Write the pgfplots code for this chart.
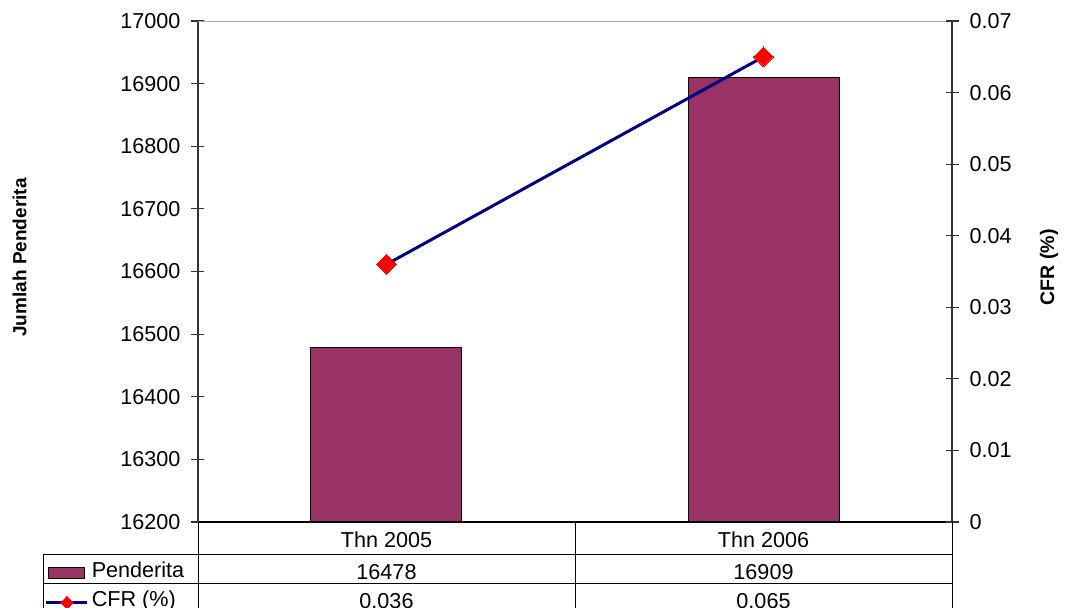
\documentclass[border=0pt]{standalone}
\usepackage{fontspec}
\setmainfont{Liberation Sans}
\usepackage{pgfplots}
\pgfplotsset{compat=1.18}
\definecolor{barplum}{HTML}{993366}
\definecolor{cfrnavy}{HTML}{000080}

\pgfplotsset{
  barkey/.style={legend image code/.code={\draw[##1] (1.2pt,-2.75pt) rectangle (19.2pt,2.75pt);}},
  linekey/.style={legend image code/.code={\draw[##1, mark repeat=2, mark phase=2] plot coordinates {(0pt,0pt) (10.25pt,0pt) (20.5pt,0pt)};}},
  common/.style={
    at={(0,0)}, anchor=south west, scale only axis,
    width=377pt, height=250.5pt,
    xmin=-0.5, xmax=1.5,
    tick align=center, major tick length=6.5pt,
    scaled y ticks=false,
    /pgf/number format/assume math mode=true,
    /pgf/number format/1000 sep={},
    every tick/.style={black!80, line width=0.6pt},
  }
}

\begin{document}
\begin{tikzpicture}[x=1pt,y=1pt,font=\fontsize{10.8}{12}\selectfont]
\useasboundingbox (-99,-43) rectangle (434,261);
\begin{axis}[common,
  ymin=16200, ymax=17000,
  ytick={16200,16300,16400,16500,16600,16700,16800,16900,17000},
  axis x line*=bottom, axis y line*=left,
  x axis line style={black, line width=1.1pt, -},
  y axis line style={black!80, line width=0.8pt, -},
  xtick={0,1}, xticklabels={Thn 2005, Thn 2006},
  xtick style={draw=none},
  xticklabel style={anchor=center, yshift=-5.5pt},
  yticklabel style={anchor=east, xshift=-2pt},
  ylabel={Jumlah Penderita},
  ylabel style={font=\fontsize{9.5}{10}\selectfont\bfseries, at={(axis description cs:-0.2367,0.528)}, anchor=center},
  clip mode=individual,
  legend style={at={(axis description cs:-0.2035,-0.1315)}, anchor=west, draw=none, fill=none,
    inner sep=0pt, row sep=6pt, column sep=1.4pt,
    nodes={inner sep=0pt, text height=6.5pt, text depth=2pt}},
  legend cell align=left,
]
\addplot[ybar, bar width=75.5pt, fill=barplum, draw=black, line width=0.5pt, barkey]
  coordinates {(0,16478) (1,16909)};
\addlegendentry{Penderita}
\addlegendimage{cfrnavy, line width=1.5pt, mark=square*,
  mark options={fill=red, draw=red, rotate=45, line width=0pt}, mark size=2.2pt, linekey}
\addlegendentry{CFR (\%)}
\draw[gray!70, line width=0.5pt] (rel axis cs:0,1) -- (rel axis cs:1,1);
\end{axis}
\begin{axis}[common,
  ymin=0, ymax=0.07,
  ytick={0,0.01,0.02,0.03,0.04,0.05,0.06,0.07},
  yticklabels={0,0.01,0.02,0.03,0.04,0.05,0.06,0.07},
  axis y line*=right, axis x line=none,
  y axis line style={black!80, line width=0.8pt, -},
  yticklabel style={anchor=west, xshift=2pt},
  ylabel={CFR (\%)},
  ylabel style={font=\fontsize{9.8}{10}\selectfont\bfseries, at={(axis description cs:1.1286,0.508)}, anchor=center},
]
\addplot[cfrnavy, line width=1.5pt, mark=square*,
  mark options={fill=red, draw=red, rotate=45, line width=0pt}, mark size=3.5pt]
  coordinates {(0,0.036) (1,0.065)};
\end{axis}
% data table below the plot
\begin{scope}[line width=0.4pt, black]
\draw (0,0) -- (0,-50);
\draw (188.5,0) -- (188.5,-50);
\draw (377,0) -- (377,-50);
\draw (-77.35,-16.15) -- (-77.35,-50);
\draw (-77.35,-16.15) -- (377,-16.15);
\draw (-77.35,-30.65) -- (377,-30.65);
\end{scope}
\node at (94.25,-25.1) {16478};
\node at (282.75,-25.1) {16909};
\node at (94.25,-39.6) {0.036};
\node at (282.75,-39.6) {0.065};
\end{tikzpicture}
\end{document}
